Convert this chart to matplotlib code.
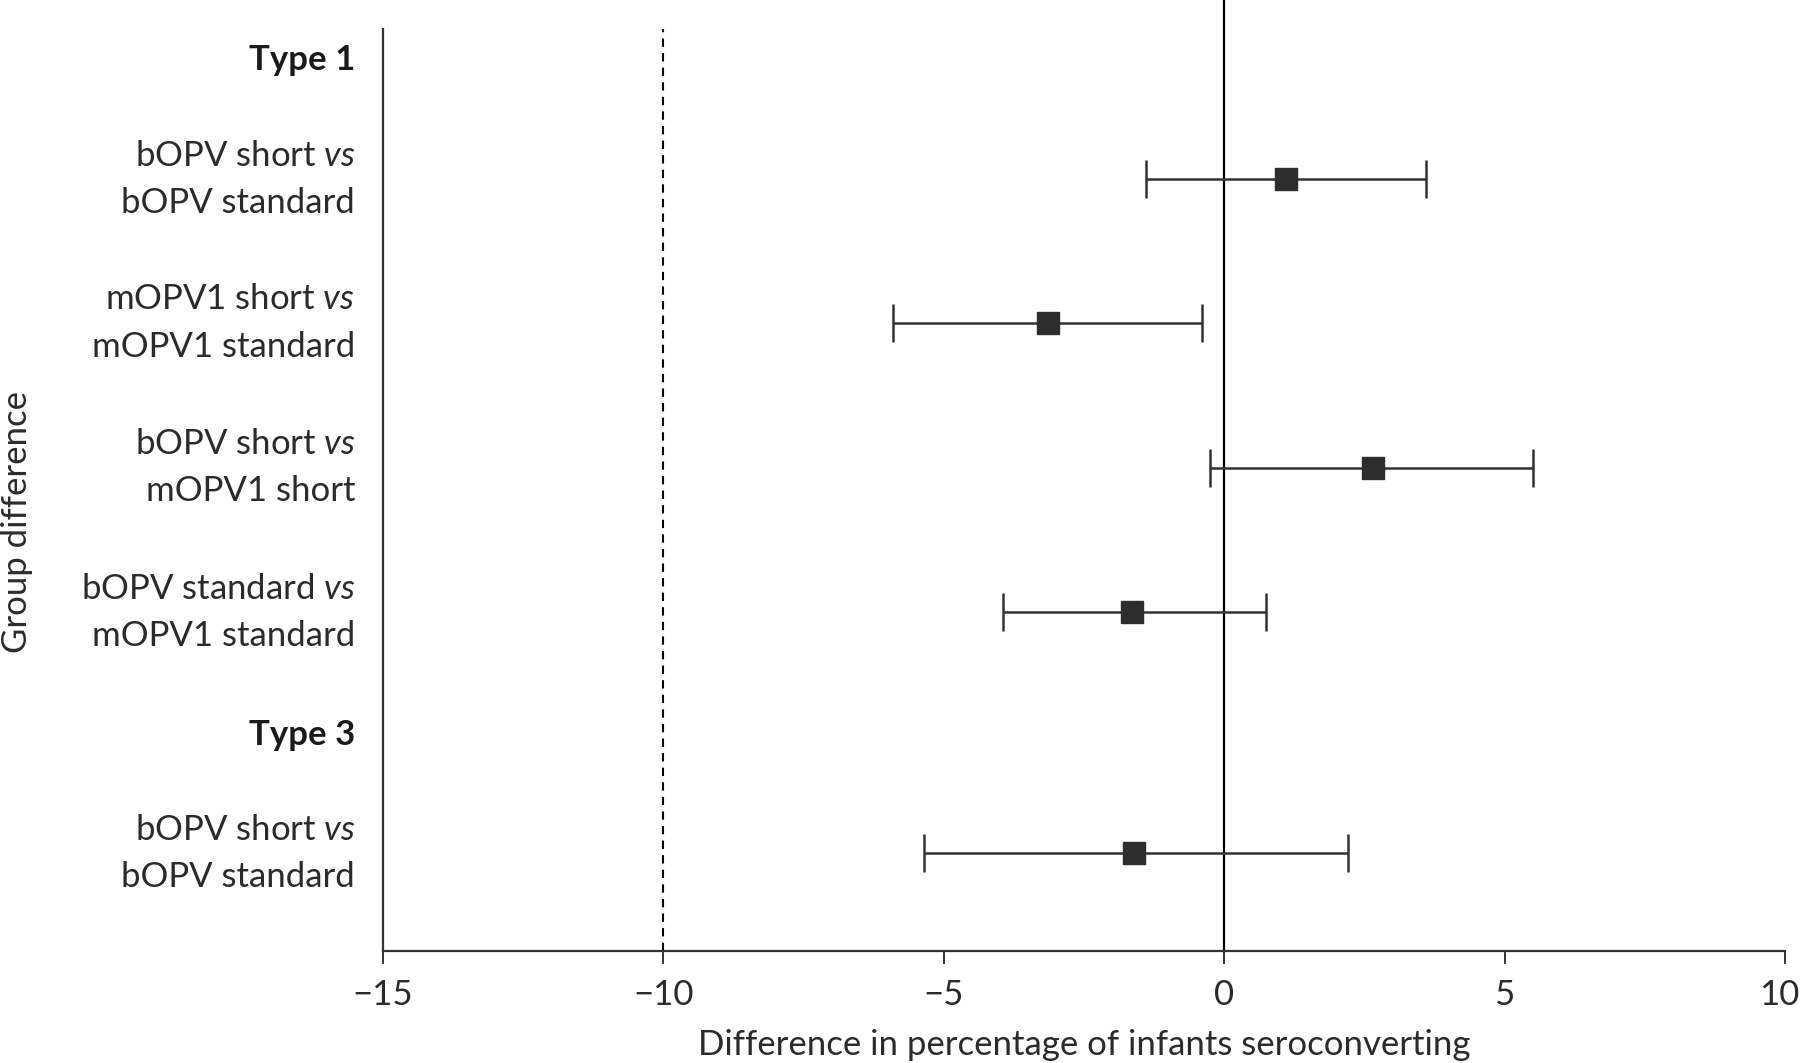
import matplotlib
matplotlib.use("Agg")
import matplotlib.pyplot as plt
import matplotlib.transforms as mtransforms

# ---- data ----
headings = ["Type 1", "Type 3"]
labels = [
    "bOPV short $\\mathit{vs}$\nbOPV standard",
    "mOPV1 short $\\mathit{vs}$\nmOPV1 standard",
    "bOPV short $\\mathit{vs}$\nmOPV1 short",
    "bOPV standard $\\mathit{vs}$\nmOPV1 standard",
    "bOPV short $\\mathit{vs}$\nbOPV standard",
]
estimates = [1.1, -3.15, 2.65, -1.65, -1.6]
lower = [-1.4, -5.9, -0.25, -3.95, -5.35]
upper = [3.6, -0.4, 5.5, 0.75, 2.2]
xticks = [-15, -10, -5, 0, 5, 10]
noninferiority_margin = -10

# ---- layout (row positions) ----
heading_pos = [0.0, 4.685]
row_pos = [0.829, 1.825, 2.829, 3.833, 5.506]

FONT = "Lato"
plt.rcParams["font.family"] = [FONT, "DejaVu Sans"]
plt.rcParams["mathtext.fontset"] = "custom"
plt.rcParams["mathtext.rm"] = FONT
plt.rcParams["mathtext.it"] = FONT + ":italic"
TXT = "#2b2b2b"
FS = 25

fig = plt.figure(figsize=(18, 10.63), dpi=100)
ax = fig.add_axes([383 / 1800, 1 - 951 / 1063, (1785 - 383) / 1800, (951 - 29) / 1063])

xerr = [[e - l for e, l in zip(estimates, lower)], [u - e for e, u in zip(estimates, upper)]]
ax.errorbar(estimates, row_pos, xerr=xerr, fmt="s", color="#2d2d2d", ecolor="#333333",
            elinewidth=1.8, capsize=14, capthick=1.8, markersize=16, zorder=3)

ax.axvline(0, ymin=0, ymax=1.032, color="black", lw=1.6, clip_on=False, zorder=2)
ax.axvline(noninferiority_margin, color="black", lw=1.5, ls=(0, (4, 3)), zorder=2)

ax.set_xlim(-15, 10)
ax.set_ylim(6.183, -0.215)

ax.set_xticks(xticks)
ax.set_xticklabels(["\u2212" + str(abs(t)) if t < 0 else str(t) for t in xticks])
ax.tick_params(axis="x", length=9, width=1.4, colors="#333333", labelsize=FS,
               labelcolor=TXT, pad=11)
last = ax.get_xticklabels()[-1]
last.set_transform(last.get_transform() + mtransforms.ScaledTranslation(-6 / 100, 0, fig.dpi_scale_trans))

ypos = heading_pos[:1] + row_pos[:4] + heading_pos[1:] + row_pos[4:]
ylabs = headings[:1] + labels[:4] + headings[1:] + labels[4:]
ax.set_yticks(ypos)
ax.set_yticklabels(ylabs, fontsize=FS, color=TXT, linespacing=1.6, va="center")
ax.tick_params(axis="y", length=0, pad=20)
for t in ax.get_yticklabels():
    if t.get_text() in headings:
        t.set_fontweight("bold")
        t.set_color("#1a1a1a")

for s in ["top", "right"]:
    ax.spines[s].set_visible(False)
for s in ["left", "bottom"]:
    ax.spines[s].set_linewidth(1.6)
    ax.spines[s].set_color("#333333")

ax.set_xlabel("Difference in percentage of infants seroconverting", fontsize=FS, color=TXT, labelpad=13)
ax.set_ylabel("Group difference", fontsize=FS, color=TXT)
ax.yaxis.label.set_va("center")
ax.yaxis.set_label_coords((17 - 383) / 1402, (951 - 522) / 922)

fig.savefig("out.png", dpi=100)
